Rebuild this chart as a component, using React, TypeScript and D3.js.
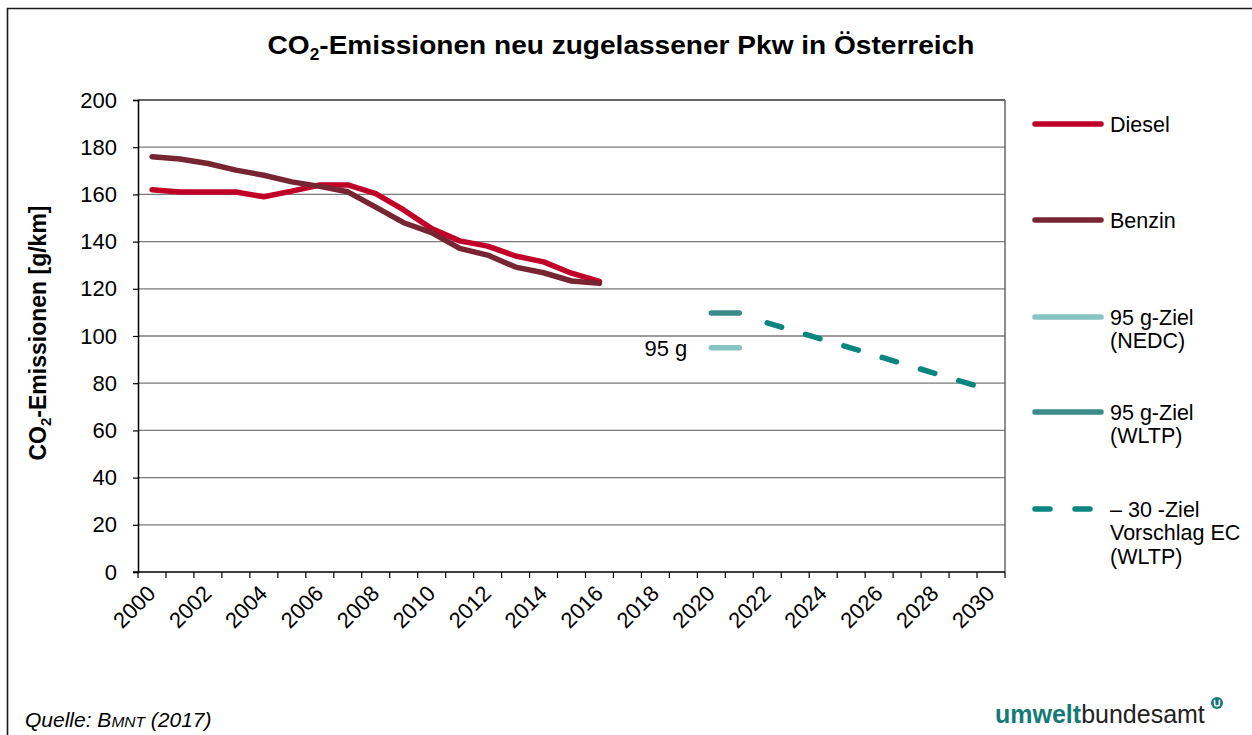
import { useEffect, useRef } from "react";
import * as d3 from "d3";

// years on the category axis
const years = d3.range(2000, 2031).map(String);
const yTicks = [0, 20, 40, 60, 80, 100, 120, 140, 160, 180, 200];

// series
const dieselYears = ["2000", "2001", "2002", "2003", "2004", "2005", "2006", "2007", "2008", "2009", "2010", "2011", "2012", "2013", "2014", "2015", "2016"];
const dieselValues = [162, 161, 161, 161, 159, 161.4, 164, 164, 160.3, 153.4, 145.5, 140.3, 138.1, 133.9, 131.4, 126.6, 123.1];
const benzinYears = dieselYears;
const benzinValues = [176, 175, 173.1, 170.3, 168.1, 165.3, 163.4, 161.1, 154.6, 148, 143.8, 137.1, 134.3, 129.2, 126.8, 123.3, 122.3];
const nedcYears = ["2020", "2021"];
const nedcValues = [95, 95];
const wltpYears = ["2020", "2021"];
const wltpValues = [109.7, 109.7];
const proposalYears = ["2022", "2030"];
const proposalValues = [105.6, 77];

const legendItems = [
  { label: ["Diesel"], color: "#c00027", dash: null, width: 5.5 },
  { label: ["Benzin"], color: "#772433", dash: null, width: 5.5 },
  { label: ["95 g-Ziel", "(NEDC)"], color: "#86c3c3", dash: null, width: 5.5 },
  { label: ["95 g-Ziel", "(WLTP)"], color: "#3a8b8a", dash: null, width: 5.5 },
  { label: ["– 30 -Ziel", "Vorschlag EC", "(WLTP)"], color: "#0a8580", dash: "15 25", width: 5.5 },
];

const FONT = "Liberation Sans, Arial, sans-serif";

function App() {
  const ref = useRef<SVGSVGElement>(null);

  useEffect(() => {
    const svg = d3.select(ref.current);
    svg.selectAll("*").remove();

    const left = 138, right = 1005, top = 100, bottom = 572;

    const x = d3.scaleBand().domain(years).range([left, right]).paddingInner(0).paddingOuter(0);
    const y = d3.scaleLinear().domain([0, 200]).range([bottom, top]);
    const cx = (d: string) => (x(d) as number) + x.bandwidth() / 2;

    // outer frame
    svg.append("path")
      .attr("d", "M7.5,740 L7.5,8.5 L1260,8.5")
      .attr("fill", "none")
      .attr("stroke", "#1a1a1a")
      .attr("stroke-width", 1.6);

    // title (slightly stretched, the original font is wider)
    const title = svg.append("text")
      .attr("transform", "translate(621,54) scale(1.08,1)")
      .attr("text-anchor", "middle")
      .style("font-family", FONT)
      .style("font-weight", "bold")
      .style("font-size", "26px")
      .attr("fill", "#000");
    title.append("tspan").text("CO");
    title.append("tspan").text("2").attr("dy", 6).style("font-size", "16px");
    title.append("tspan").text("-Emissionen neu zugelassener Pkw in Österreich").attr("dy", -6);

    // gridlines
    svg.append("g")
      .selectAll("line")
      .data(yTicks.filter((t) => t > 0))
      .enter()
      .append("line")
      .attr("x1", left)
      .attr("x2", right)
      .attr("y1", (d) => y(d))
      .attr("y2", (d) => y(d))
      .attr("stroke", (d) => (d === 200 ? "#333" : "#7a7a7a"))
      .attr("stroke-width", 1.3);

    // right border of plot
    svg.append("line")
      .attr("x1", right).attr("x2", right)
      .attr("y1", top).attr("y2", bottom)
      .attr("stroke", "#666").attr("stroke-width", 1.5);

    // y axis
    const yAxis = svg.append("g").attr("transform", `translate(${left},0)`)
      .call(d3.axisLeft(y).tickValues(yTicks).tickSize(5).tickPadding(16));
    yAxis.select(".domain").attr("stroke", "#000").attr("stroke-width", 1.5);
    yAxis.selectAll(".tick line").attr("stroke", "#000").attr("stroke-width", 1.2);
    yAxis.selectAll("text")
      .style("font-family", FONT)
      .style("font-size", "22px")
      .attr("fill", "#000");

    // x axis: tick marks between categories
    const xAxis = svg.append("g");
    xAxis.append("line")
      .attr("x1", left - 5).attr("x2", right)
      .attr("y1", bottom).attr("y2", bottom)
      .attr("stroke", "#000").attr("stroke-width", 1.5);
    xAxis.selectAll("line.tk")
      .data(years.concat(["end"]))
      .enter()
      .append("line")
      .attr("class", "tk")
      .attr("x1", (d, i) => left + i * x.bandwidth())
      .attr("x2", (d, i) => left + i * x.bandwidth())
      .attr("y1", bottom)
      .attr("y2", bottom + 6)
      .attr("stroke", "#000")
      .attr("stroke-width", 1.2);
    xAxis.selectAll("text")
      .data(years.filter((d) => +d % 2 === 0))
      .enter()
      .append("text")
      .attr("transform", (d) => `translate(${cx(d) - 6},${bottom + 12}) rotate(-45)`)
      .attr("text-anchor", "end")
      .attr("dy", "0.7em")
      .style("font-family", FONT)
      .style("font-size", "22px")
      .attr("fill", "#000")
      .text((d) => d);

    // y axis title
    const yTitle = svg.append("text")
      .attr("transform", "translate(46,333) rotate(-90)")
      .attr("text-anchor", "middle")
      .style("font-family", FONT)
      .style("font-weight", "bold")
      .style("font-size", "23px")
      .attr("fill", "#000");
    yTitle.append("tspan").text("CO");
    yTitle.append("tspan").text("2").attr("dy", 5).style("font-size", "15px");
    yTitle.append("tspan").text("-Emissionen [g/km]").attr("dy", -5);

    const line = d3.line<[string, number]>()
      .x((d) => cx(d[0]))
      .y((d) => y(d[1]));

    const drawSeries = (ys: string[], vs: number[], color: string, width: number, dash: string | null) => {
      const p = svg.append("path")
        .datum(ys.map((d, i) => [d, vs[i]] as [string, number]))
        .attr("d", line)
        .attr("fill", "none")
        .attr("stroke", color)
        .attr("stroke-width", width)
        .attr("stroke-linecap", "round")
        .attr("stroke-linejoin", "round");
      if (dash) p.attr("stroke-dasharray", dash);
    };

    drawSeries(dieselYears, dieselValues, legendItems[0].color, 5.5, null);
    drawSeries(benzinYears, benzinValues, legendItems[1].color, 5.5, null);
    drawSeries(nedcYears, nedcValues, legendItems[2].color, 5.5, null);
    drawSeries(wltpYears, wltpValues, legendItems[3].color, 5.5, null);
    drawSeries(proposalYears, proposalValues, legendItems[4].color, 5.5, "15 25");

    // "95 g" label
    svg.append("text")
      .attr("x", cx("2020") - 24)
      .attr("y", y(95))
      .attr("dy", "0.35em")
      .attr("text-anchor", "end")
      .style("font-family", FONT)
      .style("font-size", "22px")
      .attr("fill", "#000")
      .text("95 g");

    // legend
    const legendY = [124, 220, 317, 412, 509];
    legendItems.forEach((item, i) => {
      const g = svg.append("g").attr("transform", `translate(0,${legendY[i]})`);
      const l = g.append("line")
        .attr("x1", 1035).attr("x2", 1101)
        .attr("y1", 0).attr("y2", 0)
        .attr("stroke", item.color)
        .attr("stroke-width", item.width)
        .attr("stroke-linecap", "round");
      if (item.dash) l.attr("stroke-dasharray", item.dash);
      item.label.forEach((t, j) => {
        g.append("text")
          .attr("x", 1110)
          .attr("y", j * 23.5)
          .attr("dy", "0.35em")
          .style("font-family", FONT)
          .style("font-size", "21.5px")
          .attr("fill", "#000")
          .text(t);
      });
    });

    // source
    const src = svg.append("text")
      .attr("x", 25)
      .attr("y", 727)
      .style("font-family", FONT)
      .style("font-style", "italic")
      .style("font-size", "21px")
      .attr("fill", "#000");
    src.append("tspan").text("Quelle: B");
    src.append("tspan").text("MNT").style("font-size", "15.5px");
    src.append("tspan").text(" (2017)");

    // logo
    const logo = svg.append("text")
      .attr("x", 995)
      .attr("y", 723)
      .style("font-family", FONT)
      .style("font-size", "25px");
    logo.append("tspan").text("umwelt").attr("fill", "#137a76").style("font-weight", "bold");
    logo.append("tspan").text("bundesamt").attr("fill", "#222");
    svg.append("circle").attr("cx", 1217).attr("cy", 703).attr("r", 6).attr("fill", "#137a76");
    svg.append("path")
      .attr("d", "M1214.6,699.8 L1214.6,704 Q1214.6,706 1217,706 Q1219.4,706 1219.4,704 L1219.4,699.8")
      .attr("fill", "none")
      .attr("stroke", "#fff")
      .attr("stroke-width", 1.6);
  }, []);

  return (
    <svg
      ref={ref}
      width={1252}
      height={735}
      style={{ position: "absolute", left: 0, top: 0, background: "#fff" }}
    />
  );
}

export default App;
